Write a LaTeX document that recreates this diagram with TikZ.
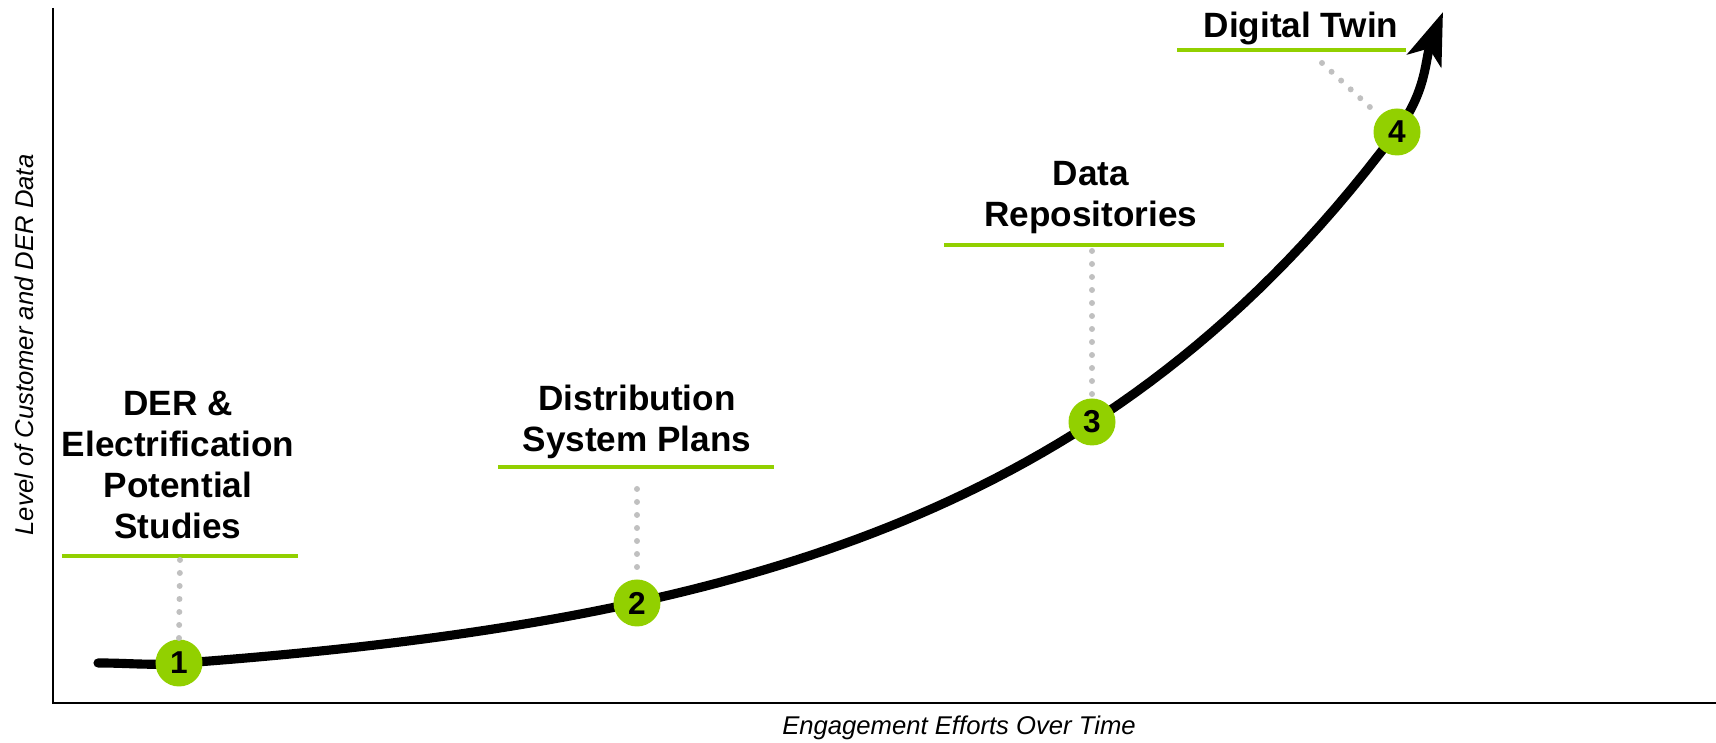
\documentclass[tikz,border=0pt]{standalone}
\usepackage{fontspec}
\setmainfont{Liberation Sans}
\usetikzlibrary{arrows.meta}
\usetikzlibrary{calc}

\begin{document}
\begin{tikzpicture}[
  stage/.style={circle, fill=StageGreen, minimum size=0.47cm, inner sep=0pt, font=\bfseries\fontsize{9}{9}\selectfont},
  caption/.style={align=center, inner sep=0pt, anchor=south, font=\bfseries\fontsize{10}{11.7}\selectfont},
  bar/.style={StageGreen, line width=1pt},
  dots/.style={DotGray, line width=1.7pt, line cap=round, dash pattern=on 0pt off 3.7pt},
  axislabel/.style={font=\itshape\fontsize{7.3}{8}\selectfont}
]
\definecolor{StageGreen}{RGB}{146,208,0}
\definecolor{DotGray}{RGB}{192,192,192}

\useasboundingbox (0,0) rectangle (17.16,7.43);
  %\draw[very thin,color=lightgray] (0,0) grid (17,7);

% axes
\draw[line width=0.8pt] (0.53,7.35) -- (0.53,0.40) -- (17.16,0.40);
\node[axislabel, rotate=90] (ylab) at (0.24,3.98) {Level of Customer and DER Data};
\node[axislabel] (xlab) at (9.59,0.15) {Engagement Efforts Over Time};

% growth curve
\draw[line width=2.6pt, line cap=round, line join=round, -{Stealth[length=5.2mm,width=3.6mm,inset=1.3mm]}]
 (0.98,0.80) to[out=0,in=184] (1.79,{0.49+0.1998*exp(0.239*1.79)})
 -- plot[domain=1.79:13.97, samples=80] (\x,{0.49+0.1998*exp(0.239*\x)}) to[out=53,in=249] (14.43,7.31);

% stages
\node[stage] (S1) at (1.79,0.80) {1};
\node[stage] (S2) at (6.37,1.40) {2};
\node[stage] (S3) at (10.92,3.21) {3};
\node[stage] (S4) at (13.97,6.11) {4};

% captions
\node[caption] (C1) at (1.78,2.03) {DER \&\\Electrification\\Potential\\Studies};
\node[caption] (C2) at (6.37,2.83) {Distribution\\System Plans};
\node[caption] (C3) at (10.91,5.08) {Data\\Repositories};
\node[caption] (C4) at (13.01,6.97) {Digital Twin};

\draw[bar] (0.62,1.87) -- (2.98,1.87);
\draw[bar] (4.98,2.76) -- (7.74,2.76);
\draw[bar] (9.44,4.98) -- (12.24,4.98);
\draw[bar] (11.77,6.93) -- (14.06,6.93);

% dotted leaders
\coordinate (D1) at (1.80,1.83);
\coordinate (D2) at (6.37,2.54);
\coordinate (D3) at (10.92,4.92);
\coordinate (D4) at (13.22,6.80);
\draw[dots] (D1) -- (S1.north);
\draw[dots, shorten >=0.1cm] (D2) -- (S2.north);
\draw[dots, shorten >=0.15cm] (D3) -- (S3.center);
\draw[dots, shorten >=0.04cm] (D4) -- (S4);

\end{tikzpicture}
\end{document}
